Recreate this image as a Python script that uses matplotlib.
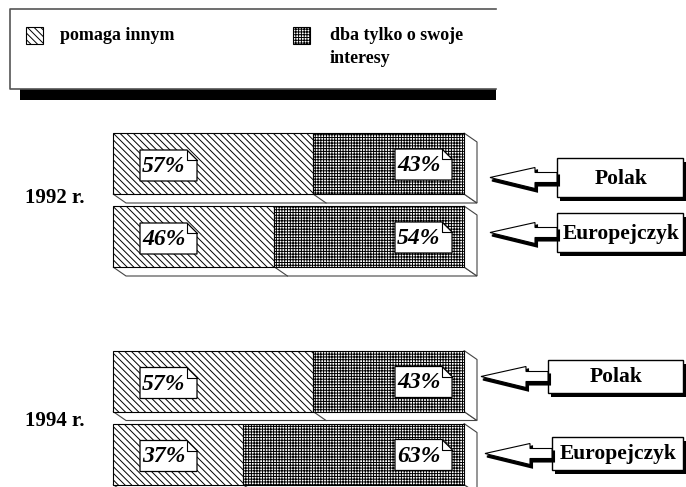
import matplotlib
matplotlib.use("Agg")
import matplotlib.pyplot as plt
from matplotlib.patches import Polygon, Rectangle

# data
years = ["1992 r.", "1994 r."]
respondents = ["Polak", "Europejczyk", "Polak", "Europejczyk"]
pomaga_innym = [57, 46, 57, 37]
dba_o_swoje = [43, 54, 43, 63]
legend_labels = ["pomaga innym", "dba tylko o swoje\ninteresy"]

plt.rcParams["font.family"] = ["Liberation Serif", "DejaVu Serif"]
plt.rcParams["hatch.linewidth"] = 0.7

W, H = 686, 487
fig = plt.figure(figsize=(W / 100, H / 100), dpi=100)

# bar axes: x in percent, y in pixel rows
BAR_L, BAR_R = 113, 464
k = (BAR_R - BAR_L) / 100.0
ax = fig.add_axes([0, 0, 1, 1])
ax.set_xlim(-BAR_L / k, (W - BAR_L) / k)
ax.set_ylim(H, 0)
ax.axis("off")

bar_y = [163.5, 236.5, 381, 454]
bar_h = 61
dx, dy = 13 / k, 9  # 3d depth

hatch_a = "\\" * 5
hatch_b = "+" * 6

# 3d faces first
for y, v in zip(bar_y, pomaga_innym):
    yt, yb = y - bar_h / 2, y + bar_h / 2
    ax.add_patch(Polygon([(0, yb), (100, yb), (100 + dx, yb + dy), (dx, yb + dy)],
                         closed=True, fc="white", ec="#444", lw=0.8, zorder=1))
    ax.add_patch(Polygon([(100, yt), (100 + dx, yt + dy), (100 + dx, yb + dy), (100, yb)],
                         closed=True, fc="white", ec="#444", lw=0.8, zorder=1))
    ax.plot([v, v + dx], [yb, yb + dy], color="#444", lw=0.8, zorder=1)

ax.barh(bar_y, pomaga_innym, height=bar_h, color="white", edgecolor="black",
        hatch=hatch_a, linewidth=0.8, zorder=2)
ax.barh(bar_y, dba_o_swoje, height=bar_h, left=pomaga_innym, color="white",
        edgecolor="black", hatch=hatch_b, linewidth=0.8, zorder=2)


def note_box(xl, yc, text):
    bw, bh, fold = 57 / k, 31, 10
    xr = xl + bw
    yt, yb = yc - bh / 2, yc + bh / 2
    ax.add_patch(Polygon([(xl, yt), (xr - fold / k, yt), (xr, yt + fold), (xr, yb), (xl, yb)],
                         closed=True, fc="white", ec="black", lw=0.9, zorder=4))
    ax.plot([xr - fold / k, xr - fold / k, xr], [yt, yt + fold, yt + fold],
            color="black", lw=0.8, zorder=5)
    ax.text(xl + 2 / k, yc + 1, text, ha="left", va="center", fontsize=17,
            fontweight="bold", fontstyle="italic", zorder=6)


for y, a, b in zip(bar_y, pomaga_innym, dba_o_swoje):
    note_box(27 / k, y + 2, f"{a}%")
    note_box(100 - 12 / k - 57 / k, y + 1, f"{b}%")

# decoration axes in pixels
deco = fig.add_axes([0, 0, 1, 1])
deco.set_xlim(0, W)
deco.set_ylim(H, 0)
deco.axis("off")
deco.patch.set_alpha(0)

# legend box with black shadow
deco.add_patch(Rectangle((20, 89), 476, 11, fc="black", ec="none"))
deco.plot([496, 10, 10, 496], [9, 9, 89, 89], color="#555", lw=1.2)
deco.add_patch(Rectangle((26, 27), 17, 17, fc="white", ec="black", lw=0.8, hatch=hatch_a))
deco.add_patch(Rectangle((293, 27), 17, 17, fc="white", ec="black", lw=0.8, hatch=hatch_b))
deco.text(60, 36, legend_labels[0], fontsize=13, fontweight="bold", va="center")
deco.text(330, 27, legend_labels[1], fontsize=13, fontweight="bold", va="top",
          linespacing=1.45)

# year labels
deco.text(25, 198, years[0], fontsize=15, fontweight="bold", va="center")
deco.text(25, 421, years[1], fontsize=15, fontweight="bold", va="center")

# callout boxes with arrows
callouts = [(557, 158, 197), (557, 213, 252), (548, 360, 393), (552, 437, 470)]
for (bx, top, bot), name in zip(callouts, respondents):
    cy = (top + bot) / 2
    deco.add_patch(Rectangle((bx + 3, top + 4), 683 - bx, bot - top, fc="black", ec="none"))
    deco.add_patch(Rectangle((bx, top), 683 - bx, bot - top, fc="white", ec="black", lw=1))
    deco.text((bx + 683) / 2 + 1, cy + 1, name, fontsize=15.5, fontweight="bold",
              ha="center", va="center")
    arrow = [(-67, 0), (-22, -10), (-22, -5), (0, -5), (0, 5),
             (-22, 5), (-22, 11)]
    shadow = [(bx + px + 2, cy + py + 3) for px, py in arrow]
    deco.add_patch(Polygon(shadow, closed=True, fc="black", ec="black", lw=1.5))
    deco.add_patch(Polygon([(bx + px, cy + py) for px, py in arrow], closed=True,
                           fc="white", ec="black", lw=0.8))

fig.savefig("out.png", dpi=100)
